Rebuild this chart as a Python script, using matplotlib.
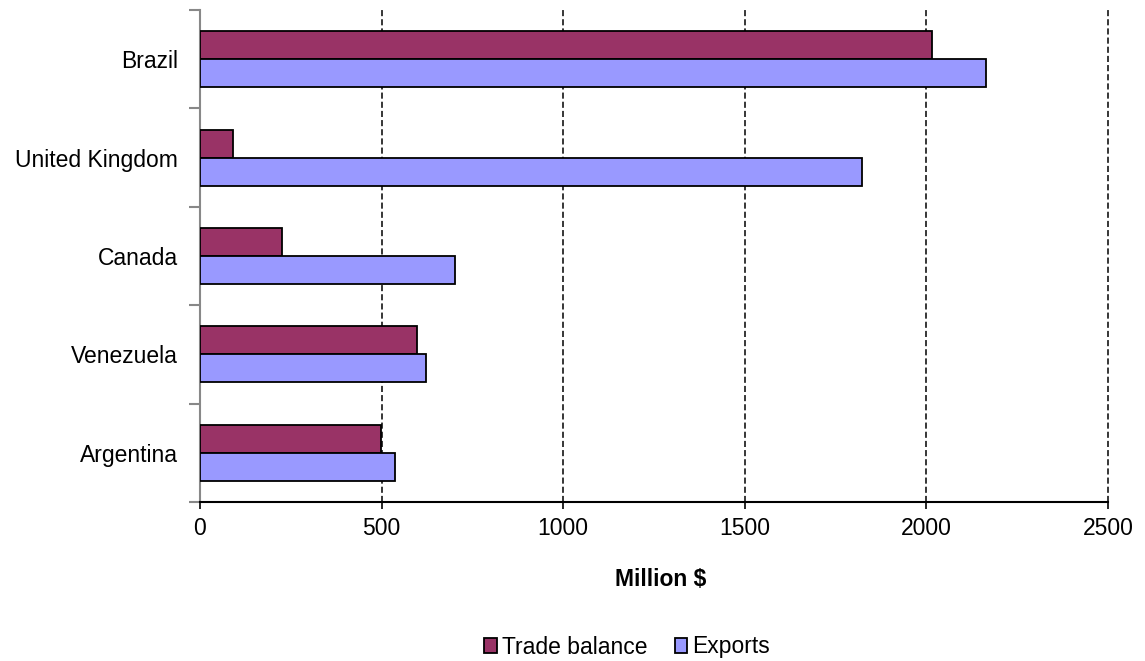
import matplotlib.pyplot as plt
import numpy as np

countries = ['Argentina', 'Venezuela', 'Canada', 'United Kingdom', 'Brazil']
trade_balance = [499, 598, 225, 92, 2015]
exports = [538, 621, 703, 1824, 2165]

plt.rcParams['font.family'] = ['Liberation Sans', 'DejaVu Sans']

fig = plt.figure(figsize=(11.45, 6.61), dpi=100)
ax = fig.add_axes([200 / 1145, 1 - 502 / 661, 908 / 1145, 492 / 661])

y = np.arange(len(countries))
h = 0.285

ax.barh(y + h / 2, trade_balance, height=h, color='#993366', edgecolor='black',
        linewidth=1.3, label='Trade balance', zorder=3)
ax.barh(y - h / 2, exports, height=h, color='#9999FF', edgecolor='black',
        linewidth=1.3, label='Exports', zorder=3)

ax.set_xlim(0, 2500)
ax.set_ylim(-0.5, len(countries) - 0.5)
ax.set_xticks(np.arange(0, 2501, 500))
ax.set_yticks(y)
ax.set_yticklabels(countries)
ax.set_yticks(np.arange(-0.5, len(countries), 1), minor=True)

# grille verticale en pointillés
for xv in range(500, 2501, 500):
    ax.axvline(xv, color='black', linewidth=1.1, linestyle=(0, (4, 2)),
               zorder=1, clip_on=False)

ax.spines['top'].set_visible(False)
ax.spines['right'].set_visible(False)
ax.spines['left'].set_color('#888888')
ax.spines['left'].set_linewidth(1.5)
ax.spines['bottom'].set_linewidth(1.5)

ax.tick_params(axis='y', which='major', length=0, pad=16, labelsize=16.5)
ax.tick_params(axis='y', which='minor', length=8, color='#888888', width=1.5)
ax.tick_params(axis='x', length=5, width=1.2, direction='out', pad=6, labelsize=16.5)

fig.text(661 / 1145, 1 - 579 / 661, 'Million $', fontsize=16.5, fontweight='bold',
         ha='center', va='center')

fig.legend(loc='center', bbox_to_anchor=(627 / 1145, 1 - 647 / 661), ncol=2,
           frameon=False, fontsize=16.5, handlelength=0.55, handleheight=0.6,
           handletextpad=0.2, columnspacing=1.2, borderpad=0)

fig.savefig('out.png', dpi=100)
